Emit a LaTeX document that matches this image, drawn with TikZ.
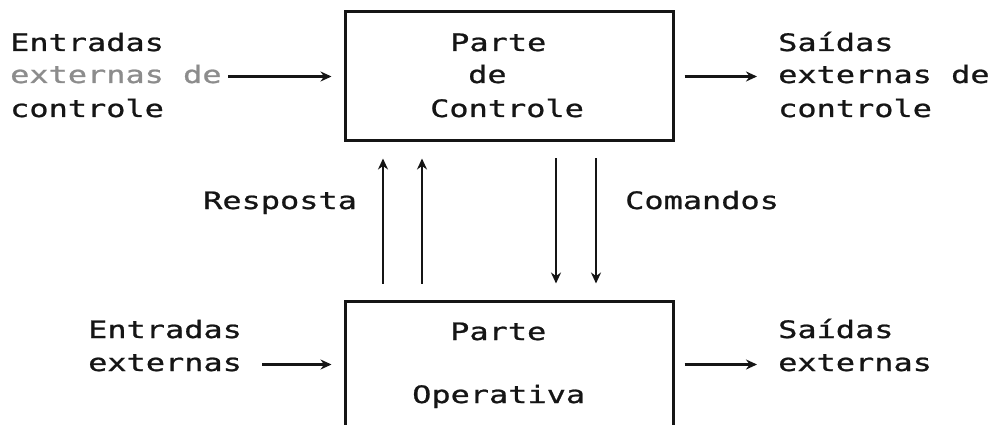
\documentclass[tikz,border=0pt]{standalone}
\usepackage{fontspec}
\usetikzlibrary{arrows.meta}
\newfontfamily\termfont[FakeStretch=1.33,FakeBold=0.9]{DejaVu Sans Mono}
\definecolor{ink}{HTML}{151515}
\definecolor{faint}{HTML}{8C8C8C}
\begin{document}
\begin{tikzpicture}[x=1pt,y=-1pt,
  txt/.style={inner sep=0pt,anchor=base west,text=ink,font=\termfont\fontsize{24}{33}\selectfont},
  blk/.style={draw=ink,line width=3pt,inner sep=0pt},
  arr/.style={draw=ink,line width=2.4pt,-{Stealth[length=11pt,width=10pt]}}]
\useasboundingbox (0,0) rectangle (991,425);
\clip (0,0) rectangle (991,425);
\fill[white] (0,0) rectangle (991,425);

% the two blocks
\node[blk,minimum width=328pt,minimum height=129pt] (ctl) at (509,76.5) {};
\node[blk,minimum width=328pt,minimum height=129pt] (op) at (509,365.5) {};

% text inside the control block
\node[txt] (ctlA) at (450,51) {Parte};
\node[txt] (ctlB) at (468,83) {de};
\node[txt] (ctlC) at (430,117) {Controle};

% text inside the operative block
\node[txt] (opA) at (450,340) {Parte};
\node[txt] (opB) at (412,403) {Operativa};

% control inputs and outputs
\node[txt] (ciA) at (10,51) {Entradas};
\node[txt,text=faint] (ciB) at (10,83) {externas de};
\node[txt] (ciC) at (10,117) {controle};
\node[txt] (coA) at (778,51) {Saídas};
\node[txt] (coB) at (778,83) {externas de};
\node[txt] (coC) at (778,117) {controle};

% data inputs and outputs
\node[txt] (diA) at (88,338) {Entradas};
\node[txt] (diB) at (88,371) {externas};
\node[txt] (doA) at (778,338) {Saídas};
\node[txt] (doB) at (778,371) {externas};

% labels of the vertical links
\node[txt] (resp) at (203,209) {Resposta};
\node[txt] (cmd) at (625,209) {Comandos};

% horizontal connectors
\coordinate (ciEnd) at (228,76.5);
\draw[arr,shorten >=12pt] (ciEnd) -- (ctl.west);
\draw[arr,shorten <=10pt,shorten >=21pt] (ctl.east) -- (coB.west |- ctl.east);
\coordinate (diEnd) at (262,364.5);
\draw[arr,shorten >=12pt] (diEnd) -- (diEnd -| op.west);
\draw[arr,shorten <=10pt,shorten >=21pt] (op.east |- diEnd) -- (doB.west |- diEnd);

% response lines (operative -> control)
\draw[arr,shorten <=16pt,shorten >=16pt] (op.north -| 383,0) -- (ctl.south -| 383,0);
\draw[arr,shorten <=16pt,shorten >=16pt] (op.north -| 422,0) -- (ctl.south -| 422,0);
% command lines (control -> operative)
\draw[arr,shorten <=16pt,shorten >=16pt] (ctl.south -| 556,0) -- (op.north -| 556,0);
\draw[arr,shorten <=16pt,shorten >=16pt] (ctl.south -| 596,0) -- (op.north -| 596,0);
\end{tikzpicture}
\end{document}
